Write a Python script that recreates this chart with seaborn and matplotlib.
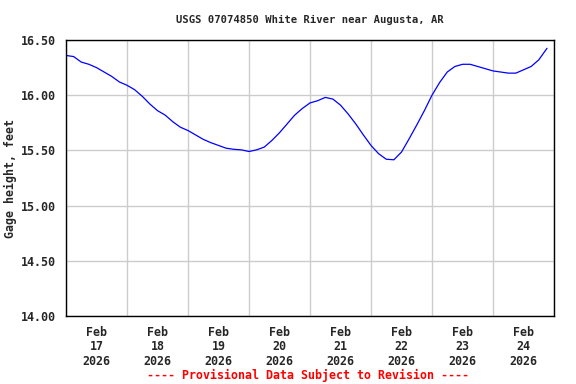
import pandas as pd
import matplotlib
matplotlib.use("Agg")
import matplotlib.pyplot as plt
import matplotlib.dates as mdates
import seaborn as sns

# gage height readings (feet), every 3 hours from Feb 17 00:00
gage_3h = [
    16.36, 16.35, 16.30, 16.28, 16.25, 16.21, 16.17, 16.12,
    16.09, 16.05, 15.99, 15.92, 15.86, 15.82, 15.76, 15.71,
    15.68, 15.64, 15.60, 15.57, 15.545, 15.52, 15.51, 15.505,
    15.49, 15.505, 15.53, 15.59, 15.66, 15.74, 15.82, 15.88,
    15.93, 15.95, 15.98, 15.965, 15.91, 15.83, 15.74, 15.64,
    15.545, 15.47, 15.42, 15.415, 15.485, 15.605, 15.73, 15.86,
    16.00, 16.115, 16.21, 16.26, 16.28, 16.28, 16.26, 16.24,
    16.22, 16.21, 16.20, 16.20, 16.23, 16.26, 16.32,
]
last_time = "2026-02-24 21:15"
last_gage = 16.425

y_ticks = [14.00, 14.50, 15.00, 15.50, 16.00, 16.50]
day_labels = ["Feb\n17\n2026", "Feb\n18\n2026", "Feb\n19\n2026", "Feb\n20\n2026",
              "Feb\n21\n2026", "Feb\n22\n2026", "Feb\n23\n2026", "Feb\n24\n2026"]

times = list(pd.date_range("2026-02-17", periods=len(gage_3h), freq="3h"))
times.append(pd.Timestamp(last_time))
df = pd.DataFrame({"time": times, "gage": gage_3h + [last_gage]})

sns.set_style("white")
plt.rcParams["font.family"] = ["DejaVu Sans Mono"]
plt.rcParams["font.weight"] = "bold"

fig = plt.figure(figsize=(5.76, 3.84), dpi=100)
ax = fig.add_axes([66 / 576, 1 - 316 / 384, 488 / 576, 276 / 384])

sns.lineplot(data=df, x="time", y="gage", color="#0000ff", lw=0.9, ax=ax)

ax.set_xlim(pd.Timestamp("2026-02-17"), pd.Timestamp("2026-02-25"))
ax.set_ylim(14.0, 16.5)

# grid at midnights, labels at noon
ax.xaxis.set_major_locator(mdates.DayLocator())
ax.xaxis.set_major_formatter(plt.NullFormatter())
noons = pd.date_range("2026-02-17 12:00", periods=len(day_labels), freq="D")
ax.set_xticks(mdates.date2num(noons), minor=True)
ax.set_xticklabels(day_labels, minor=True, fontsize=8.4, fontweight="bold",
                   linespacing=1.15)
ax.tick_params(axis="x", which="both", length=0, pad=7)

ax.set_yticks(y_ticks)
ax.set_yticklabels([f"{v:.2f}" for v in y_ticks], fontsize=8.4, fontweight="bold")
ax.tick_params(axis="y", length=0, pad=7)

ax.grid(True, which="major", color="#cccccc", lw=1.0)
for s in ax.spines.values():
    s.set_color("black")
    s.set_linewidth(1.0)

ax.set_xlabel("")
ax.set_ylabel("Gage height, feet", fontsize=8.4, fontweight="bold")
ax.yaxis.set_label_coords(-49 / 488, 0.5)

fig.text(310 / 576, 1 - 20 / 384, "USGS 07074850 White River near Augusta, AR",
         ha="center", va="center", fontsize=7.6, fontweight="bold")
fig.text(308 / 576, 1 - 375 / 384, "---- Provisional Data Subject to Revision ----",
         ha="center", va="center", fontsize=8.4, fontweight="bold", color="red")

fig.savefig("out.png", dpi=100)
